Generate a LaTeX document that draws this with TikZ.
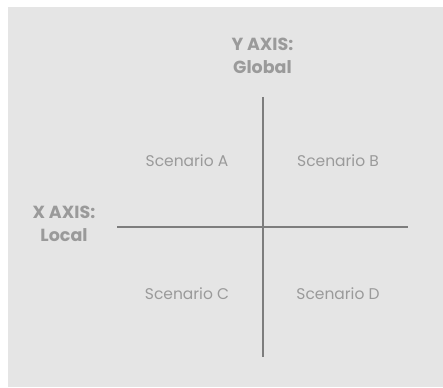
\documentclass[tikz,border=0pt]{standalone}
\usepackage{fontspec}
\setmainfont{Poppins}
\definecolor{panelgray}{HTML}{E5E5E5}
\definecolor{axisgray}{HTML}{7D7D7D}
\definecolor{labelgray}{HTML}{9A9A9A}
\begin{document}
\begin{tikzpicture}[x=1pt,y=-1pt,
    axislabel/.style={font=\bfseries\fontsize{17.5}{23}\selectfont,text=labelgray,align=center},
    scenario/.style={font=\fontsize{15.5}{18}\selectfont,text=labelgray}]%
  \useasboundingbox (0,0) rectangle (443,387);
  \fill[panelgray] (8,7) rectangle (443,387);
  \pgfmathsetmacro{\cx}{262.5}
  \pgfmathsetmacro{\cy}{227}
  \coordinate (top) at (\cx,97);
  \coordinate (bottom) at (\cx,357);
  \coordinate (left) at (117,\cy);
  \coordinate (right) at (408,\cy);
  \draw[color=axisgray,line width=2pt] (top)--(bottom);
  \draw[color=axisgray,line width=2pt] (left)--(right);
  \node[axislabel] (yaxis) at (\cx,56) {Y AXIS:\\Global};
  \node[axislabel] (xaxis) at (64,224) {X AXIS:\\Local};
  \foreach \name/\x/\y in {A/187/161,B/338/161,C/187/294,D/338/294} {
    \node[scenario] (sc\name) at (\x,\y) {Scenario \name};
  }
\end{tikzpicture}
\end{document}
